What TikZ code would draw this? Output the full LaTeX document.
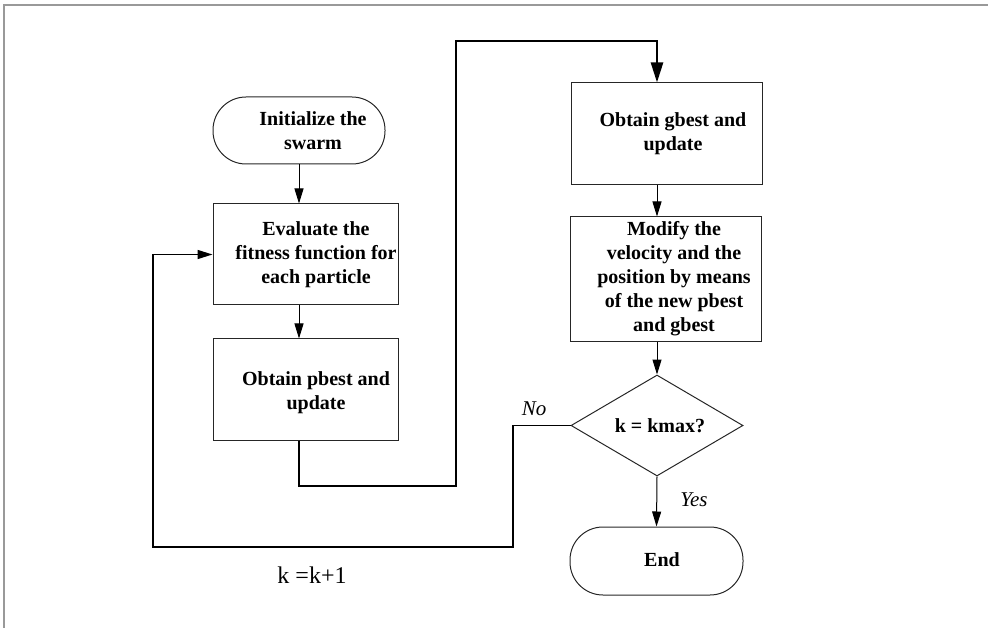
\documentclass[tikz,border=0pt]{standalone}
\usepackage{fontspec}
\setmainfont{Liberation Serif}
\usetikzlibrary{shapes.geometric,arrows.meta}
\tikzset{
  boxst/.style={draw=black!85, line width=1pt, rectangle, inner sep=0pt},
  termst/.style={boxst, rounded corners=33pt},
  decst/.style={draw=black!85, line width=1pt, diamond, aspect=1.7, inner sep=0pt},
  txt/.style={align=center, inner sep=0pt, font=\fontsize{20}{24}\selectfont\bfseries},
  arr/.style={line width=1pt, -{Triangle[length=15pt,width=9pt]}},
  thickarr/.style={line width=2.4pt, -{Triangle[length=20pt,width=12pt]}},
  looparr/.style={line width=1.5pt, -{Triangle[length=15pt,width=9pt]}},
  lab/.style={font=\fontsize{21}{24}\selectfont\itshape, inner sep=0pt}
}
\begin{document}
\begin{tikzpicture}[x=1pt,y=-1pt]
\useasboundingbox (0,0) rectangle (988,628);
\draw[black!40, line width=1.2pt] (4,628) -- (4,5) -- (988,5);

\node[termst, minimum width=172pt, minimum height=67pt] (init) at (299,130.5) {};
\node[boxst, minimum width=185pt, minimum height=101pt] (eval) at (305.5,254.5) {};
\node[boxst, minimum width=185pt, minimum height=101pt] (pbest) at (305.5,389.5) {};
\node[boxst, minimum width=191pt, minimum height=102pt] (gbest) at (666.5,134) {};
\node[boxst, minimum width=191pt, minimum height=125pt] (modify) at (665.5,279.5) {};
\node[decst, minimum width=172pt, minimum height=101pt] (dec) at (657,425.5) {};
\node[termst, minimum width=173pt, minimum height=68pt] (endn) at (656.5,561) {};

\node[txt] (initT) at (313,131) {Initialize the\\swarm};
\node[txt] (evalT) at (316,255) {Evaluate the\\fitness function for\\each particle};
\node[txt] (pbestT) at (316,393) {Obtain pbest and\\update};
\node[txt] (gbestT) at (673,134) {Obtain gbest and\\update};
\node[txt] (modifyT) at (674,279) {Modify the\\velocity and the\\position by means\\of the new pbest\\and gbest};
\node[txt] (decT) at (660,426) {k = kmax?};
\node[txt] (endT) at (662,560) {End};

\node[lab] (no) at (534,409) {No};
\node[lab] (yes) at (694,500) {Yes};
\node[font=\fontsize{24}{28}\selectfont, inner sep=0pt] (kk) at (312,575) {k =k+1};

\coordinate (t1) at (299,486);
\coordinate (t2) at (456,486);
\coordinate (t3) at (456,41);
\coordinate (n1) at (513,547);
\coordinate (n2) at (153,547);

\draw[arr] (init.south) -- (init.south |- eval.north);
\draw[arr] (init.south |- eval.south) -- (init.south |- pbest.north);
\draw[thickarr] (init.south |- pbest.south) -- (t1) -- (t2) -- (t3) -| (dec.north |- gbest.north);
\draw[arr] (dec.north |- gbest.south) -- (dec.north |- modify.north);
\draw[arr] (dec.north |- modify.south) -- (dec.north);
\draw[arr] (dec.south) -- (endn.north);
\draw[looparr] (dec.west) -| (n1) -- (n2) |- (eval.west);
\end{tikzpicture}
\end{document}
